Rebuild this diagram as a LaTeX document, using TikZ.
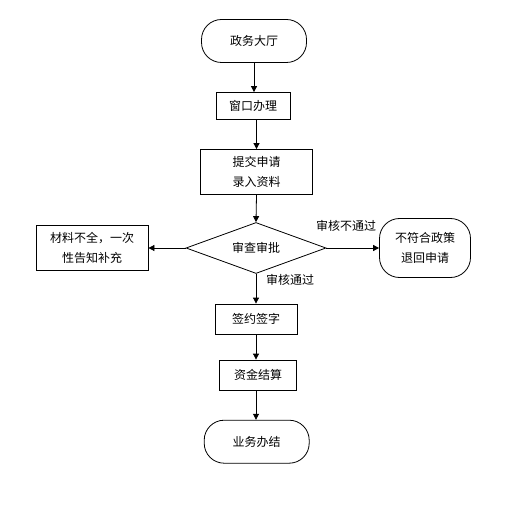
\documentclass[tikz,border=0pt]{standalone}
\usepackage{fontspec}
\setmainfont{Noto Sans CJK SC}
\usetikzlibrary{shapes.geometric,arrows.meta}
\begin{document}
\begin{tikzpicture}[x=1pt,y=1pt,
  every node/.style={font=\fontsize{12}{20}\selectfont, align=center, inner sep=0pt},
  boxnode/.style={draw, line width=0.8pt, rectangle},
  termnode/.style={draw, line width=0.8pt, rectangle, rounded corners=20pt},
  decnode/.style={draw, line width=0.8pt, diamond, aspect=2.75, minimum width=140pt, minimum height=51pt},
  flow/.style={draw, line width=0.8pt, -{Triangle[length=6pt,width=6pt]}},
  lbl/.style={font=\fontsize{12}{14}\selectfont}]
\useasboundingbox (0,0) rectangle (524,512);
\fill[white] (0,0) rectangle (524,512);
\node[termnode, minimum width=105pt, minimum height=43pt] (t1) at (254,471) {政务大厅};
\node[boxnode, minimum width=74pt, minimum height=27pt] (b2) at (253,406) {窗口办理};
\node[boxnode, minimum width=112pt, minimum height=45pt] (b3) at (256.5,340) {提交申请\\录入资料};
\node[decnode] (d) at (256,264) {审查审批};
\node[boxnode, minimum width=112pt, minimum height=45pt] (bl) at (92,264) {材料不全，一次\\性告知补充};
\node[termnode, minimum width=91pt, minimum height=59pt] (tr) at (425,264) {不符合政策\\退回申请};
\node[boxnode, minimum width=82pt, minimum height=30pt] (b5) at (256,193) {签约签字};
\node[boxnode, minimum width=77pt, minimum height=30pt] (b6) at (258,137) {资金结算};
\node[termnode, minimum width=105pt, minimum height=43pt] (t2) at (256.7,70.3) {业务办结};
\node[lbl] (l1) at (346,286) {审核不通过};
\node[lbl] (l2) at (290,232) {审核通过};
\draw[flow] (t1.south) -- (t1.south |- b2.north);
\draw[flow] (b2.south -| b3.north) -- (b3.north);
\draw[flow] (b3.south) -- (d.north);
\draw[flow] (d.west) -- (d.west -| bl.east);
\draw[flow] (d.east) -- (d.east -| tr.west);
\draw[flow] (d.south) -- (d.south |- b5.north);
\draw[flow] (b5.south) -- (b5.south |- b6.north);
\draw[flow] (b6.south -| b5.south) -- (b5.south |- t2.north);
\end{tikzpicture}
\end{document}
